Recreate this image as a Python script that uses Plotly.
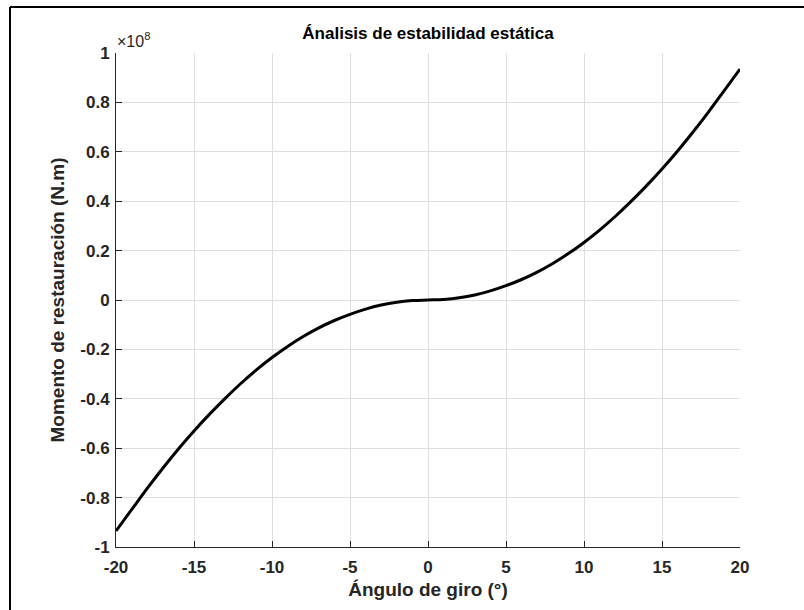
import plotly.graph_objects as go

# Heel angle (degrees) and restoring moment (N.m)
angulo = list(range(-20, 21))
momento = [-0.935e8, -0.849e8, -0.763e8, -0.681e8, -0.603e8, -0.530e8,
           -0.462e8, -0.398e8, -0.338e8, -0.283e8, -0.233e8, -0.188e8,
           -0.148e8, -0.113e8, -0.083e8, -0.058e8, -0.037e8, -0.0205e8,
           -0.009e8, -0.0025e8, 0.0,
           0.0025e8, 0.009e8, 0.0205e8, 0.037e8, 0.058e8, 0.083e8, 0.113e8,
           0.148e8, 0.188e8, 0.233e8, 0.283e8, 0.338e8, 0.398e8, 0.462e8,
           0.530e8, 0.603e8, 0.681e8, 0.763e8, 0.849e8, 0.935e8]

x_ticks = [-20, -15, -10, -5, 0, 5, 10, 15, 20]
y_ticks = [-1e8, -0.8e8, -0.6e8, -0.4e8, -0.2e8, 0, 0.2e8, 0.4e8, 0.6e8, 0.8e8, 1e8]
y_ticktext = ["-1", "-0.8", "-0.6", "-0.4", "-0.2", "0", "0.2", "0.4", "0.6", "0.8", "1"]

W, H = 804, 610
L, R, T, B = 116, 740, 53, 547  # plot area in pixels
FONT = "Arial, 'Liberation Sans', Helvetica, sans-serif"

def px_x(p):
    return (p - L) / (R - L)

def px_y(p):
    return (B - p) / (B - T)

fig = go.Figure()
fig.add_trace(go.Scatter(
    x=angulo, y=momento, mode="lines",
    line=dict(color="black", width=3, shape="spline", smoothing=1.0),
    showlegend=False, hoverinfo="skip",
))

axis_common = dict(
    showline=True, linecolor="#262626", linewidth=1,
    ticks="inside", ticklen=6, tickwidth=1, tickcolor="#262626",
    showgrid=True, gridcolor="#dedede", gridwidth=1,
    zeroline=False, mirror=False,
    tickfont=dict(family=FONT, size=17, color="#262626", weight="bold"),
)

fig.update_xaxes(
    range=[-20, 20], tickvals=x_ticks, ticktext=[str(v) for v in x_ticks],
    ticklabelstandoff=5,
    title=dict(text="<b>Ángulo de giro (°)</b>", standoff=6,
               font=dict(family=FONT, size=19, color="#262626")),
    **axis_common,
)
fig.update_yaxes(
    range=[-1e8, 1e8], tickvals=y_ticks, ticktext=y_ticktext,
    ticklabelstandoff=2,
    title=dict(text="<b>Momento de restauración (N.m)</b>", standoff=10,
               font=dict(family=FONT, size=19, color="#262626")),
    **axis_common,
)

fig.update_layout(
    width=W, height=H,
    margin=dict(l=L, r=W - R, t=T, b=H - B, autoexpand=False),
    paper_bgcolor="white", plot_bgcolor="white",
    title=dict(text="<b>Ánalisis de estabilidad estática</b>",
               x=(L + R) / 2 / W, xanchor="center",
               y=1 - 33 / H, yanchor="middle",
               font=dict(family=FONT, size=17, color="black")),
    annotations=[dict(
        text="×10<sup>8</sup>", xref="paper", yref="paper",
        x=px_x(L - 1), y=px_y(T - 1), xanchor="left", yanchor="bottom",
        showarrow=False, font=dict(family=FONT, size=16, color="#262626"),
    )],
    shapes=[
        # figure frame (top and left edges)
        dict(type="line", xref="paper", yref="paper",
             x0=px_x(10), x1=px_x(W + 2), y0=px_y(7), y1=px_y(7),
             line=dict(color="black", width=2)),
        dict(type="line", xref="paper", yref="paper",
             x0=px_x(10), x1=px_x(10), y0=px_y(7), y1=px_y(H + 2),
             line=dict(color="black", width=2)),
    ],
)

fig.write_html("out.html")
